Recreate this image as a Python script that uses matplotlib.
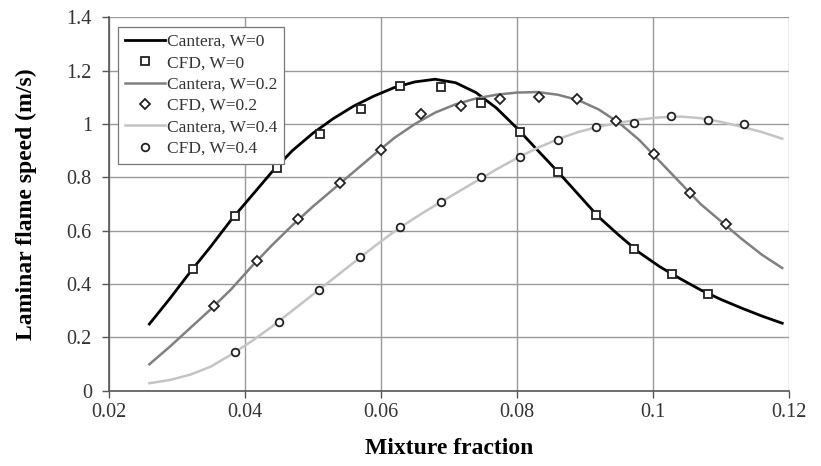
import matplotlib

matplotlib.use("Agg")
import matplotlib.pyplot as plt
from matplotlib.ticker import FuncFormatter, MultipleLocator

plt.rcParams["font.family"] = ["Liberation Serif", "DejaVu Serif"]

# ---- data ----
# Cantera curves (mixture fraction, laminar flame speed)
cantera_x = [0.026, 0.029, 0.032, 0.035, 0.038, 0.041, 0.044, 0.047, 0.050, 0.053,
             0.056, 0.059, 0.062, 0.065, 0.068, 0.071, 0.074, 0.077, 0.080, 0.083,
             0.086, 0.089, 0.092, 0.095, 0.098, 0.101, 0.104, 0.107, 0.110, 0.113,
             0.116, 0.119]
cantera_w0 = [0.25, 0.345, 0.445, 0.54, 0.64, 0.73, 0.82, 0.90, 0.965, 1.02,
              1.067, 1.105, 1.137, 1.158, 1.168, 1.155, 1.118, 1.06, 0.985, 0.903,
              0.822, 0.737, 0.652, 0.583, 0.518, 0.465, 0.42, 0.378, 0.342, 0.31,
              0.28, 0.253]
cantera_w02 = [0.099, 0.165, 0.235, 0.305, 0.38, 0.465, 0.545, 0.62, 0.69, 0.755,
               0.82, 0.885, 0.948, 1.0, 1.043, 1.074, 1.096, 1.11, 1.118, 1.12,
               1.11, 1.09, 1.055, 1.005, 0.94, 0.86, 0.78, 0.70, 0.635, 0.57,
               0.51, 0.46]
cantera_w04 = [0.028, 0.04, 0.06, 0.09, 0.135, 0.185, 0.24, 0.30, 0.36, 0.42,
               0.48, 0.54, 0.597, 0.648, 0.695, 0.74, 0.785, 0.83, 0.872, 0.91,
               0.943, 0.97, 0.99, 1.005, 1.017, 1.025, 1.028, 1.022, 1.008, 0.99,
               0.97, 0.945]

# CFD points
cfd_w0_x = [0.0324, 0.0386, 0.0448, 0.0511, 0.0571, 0.0629, 0.0688, 0.0747, 0.0804,
            0.0861, 0.0917, 0.0972, 0.1028, 0.1081]
cfd_w0_y = [0.455, 0.655, 0.835, 0.962, 1.055, 1.142, 1.14, 1.078, 0.97,
            0.821, 0.659, 0.53, 0.4375, 0.3625]
cfd_w02_x = [0.0355, 0.0418, 0.0479, 0.054, 0.060, 0.0659, 0.0718, 0.0775, 0.0832,
             0.0889, 0.0946, 0.1001, 0.1055, 0.1108]
cfd_w02_y = [0.318, 0.488, 0.645, 0.778, 0.9025, 1.037, 1.067, 1.095, 1.10,
             1.094, 1.012, 0.887, 0.742, 0.625]
cfd_w04_x = [0.0386, 0.045, 0.0509, 0.0569, 0.0629, 0.0689, 0.0747, 0.0804, 0.0861,
             0.0917, 0.0972, 0.1027, 0.1081, 0.1134]
cfd_w04_y = [0.146, 0.259, 0.378, 0.50, 0.613, 0.707, 0.80, 0.877, 0.94,
             0.99, 1.005, 1.03, 1.015, 0.999]

fig = plt.figure(figsize=(8.21, 4.66), dpi=100)
ax = fig.add_axes([0.1322, 0.1616, 0.8289, 0.8011])

mk = dict(linestyle="none", mfc="white", mec="#222222", mew=1.3, zorder=4)

ax.plot(cantera_x, cantera_w0, color="black", lw=2.0, label="Cantera, W=0", zorder=3)
ax.plot(cfd_w0_x, cfd_w0_y, marker="s", ms=5.5, label="CFD, W=0", **mk)
ax.plot(cantera_x, cantera_w02, color="#808080", lw=1.8, label="Cantera, W=0.2", zorder=3)
ax.plot(cfd_w02_x, cfd_w02_y, marker="D", ms=5, label="CFD, W=0.2", **mk)
ax.plot(cantera_x, cantera_w04, color="#c4c4c4", lw=1.8, label="Cantera, W=0.4", zorder=3)
ax.plot(cfd_w04_x, cfd_w04_y, marker="o", ms=5.5, label="CFD, W=0.4", **mk)

ax.set_xlim(0.02, 0.12)
ax.set_ylim(0, 1.4)
ax.xaxis.set_major_locator(MultipleLocator(0.02))
ax.yaxis.set_major_locator(MultipleLocator(0.2))
fmt = FuncFormatter(lambda v, p: "%g" % round(v, 4))
ax.xaxis.set_major_formatter(fmt)
ax.yaxis.set_major_formatter(fmt)

ax.grid(True, color="#9a9a9a", lw=1.0, zorder=0)
ax.set_axisbelow(True)
for s in ("top", "right"):
    ax.spines[s].set_visible(False)
for s in ("left", "bottom"):
    ax.spines[s].set_color("#555555")
    ax.spines[s].set_linewidth(1.2)
ax.tick_params(axis="both", direction="out", length=5, width=1.0, color="#555555",
               labelsize=14.5, labelcolor="#333333")
ax.tick_params(axis="x", pad=4)
ax.tick_params(axis="y", pad=7)

ax.set_xlabel("Mixture fraction", fontsize=17, fontweight="bold")
ax.set_ylabel("Laminar flame speed (m/s)", fontsize=17, fontweight="bold")
ax.xaxis.set_label_coords(0.5, -0.128)
ax.yaxis.set_label_coords(-0.105, 0.5)

leg = ax.legend(loc="upper left", fontsize=12.5, frameon=True, fancybox=False,
                edgecolor="#777777", framealpha=1, borderaxespad=0.55,
                handlelength=2.3, handletextpad=0.1, labelspacing=0.3,
                borderpad=0.4)
leg.get_frame().set_linewidth(0.9)
for t in leg.get_texts():
    t.set_color("#333333")

fig.savefig("out.png", dpi=100, facecolor="white")
